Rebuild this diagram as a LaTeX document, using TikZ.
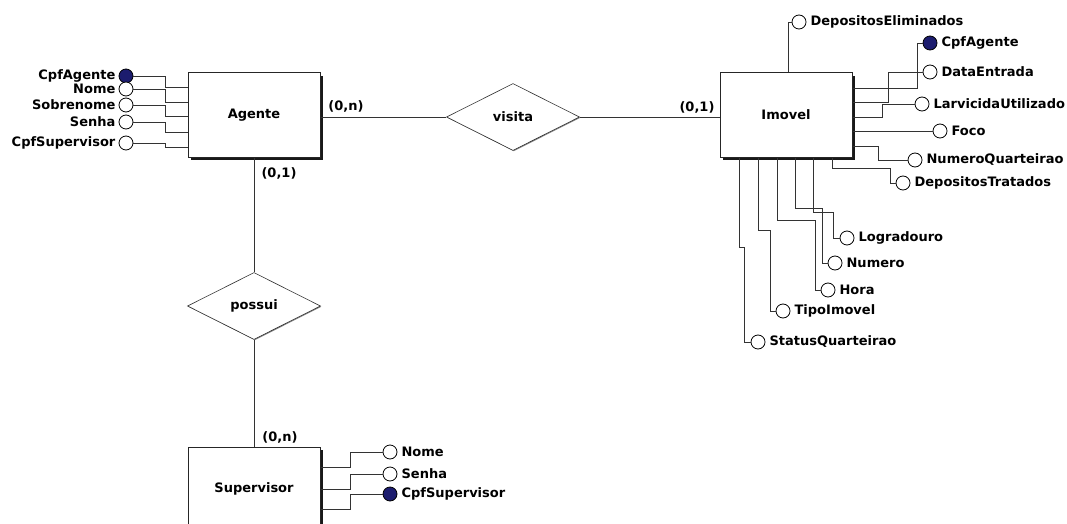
\documentclass[tikz,border=0pt]{standalone}
\usepackage{fontspec}
\setmainfont{DejaVu Sans}
\usetikzlibrary{shapes.geometric,shadows}
\definecolor{keyblue}{RGB}{28,28,110}
\begin{document}
\begin{tikzpicture}[x=1pt,y=-1pt,
  every node/.style={font=\fontsize{13}{15}\selectfont\bfseries},
  ent/.style={draw=black!85,line width=1pt,fill=white,minimum width=132pt,minimum height=84pt,inner sep=0pt,
    drop shadow={shadow xshift=2.6pt,shadow yshift=-2.6pt,fill=black!90,opacity=1}},
  rel/.style={draw=black!80,diamond,line width=0.6pt,fill=white,minimum width=133pt,minimum height=67pt,inner sep=0pt,
    drop shadow={shadow xshift=0.8pt,shadow yshift=-0.8pt,fill=black!50,opacity=1}},
  attr/.style={circle,draw,line width=0.8pt,fill=white,minimum size=14pt,inner sep=0pt},
  key/.style={attr,fill=keyblue},
  conn/.style={line width=0.9pt,black!80},
  lr/.style={label={[inner sep=0pt,label distance=4pt]right:#1}},
  ll/.style={label={[inner sep=0pt,label distance=3pt]left:#1}},
]
\useasboundingbox (0,0) rectangle (1067,524);
\clip (0,0) rectangle (1067,524);

% entities and relationships
\node[ent] (agente) at (254,115) {Agente};
\node[ent] (imovel) at (786,115) {Imovel};
\node[ent] (supervisor) at (254,489) {Supervisor};
\node[rel] (visita) at (513,117) {visita};
\node[rel] (possui) at (254,306) {possui};

\draw[conn] (agente.east |- visita.west) -- (visita.west);
\draw[conn] (visita.east) -- (imovel.west |- visita.east);
\draw[conn] (agente.south) -- (possui.north);
\draw[conn] (possui.south) -- (supervisor.north);

% cardinalities
\node (c1) at (346,106) {(0,n)};
\node (c2) at (697,107) {(0,1)};
\node (c3) at (279,173) {(0,1)};
\node (c4) at (280,437) {(0,n)};

% Agente attributes
\node[key,ll=CpfAgente] (a1) at (126,76) {};
\node[attr,ll=Nome] (a2) at (126,89) {};
\node[attr,ll=Sobrenome] (a3) at (126,105) {};
\node[attr,ll=Senha] (a4) at (126,122) {};
\node[attr,ll=CpfSupervisor] (a5) at (126,143) {};
\draw[conn] (a1.east) -- (165,76) |- (agente.west |- 0,87);
\draw[conn] (a2.east) -- (165,89) |- (agente.west |- 0,102);
\draw[conn] (a3.east) -- (165,105) |- (agente.west |- 0,116);
\draw[conn] (a4.east) -- (165,122) |- (agente.west |- 0,132);
\draw[conn] (a5.east) -- (165,143) |- (agente.west |- 0,147);

% Imovel attributes (right / top)
\node[key,lr=CpfAgente] (i1) at (930,43) {};
\node[attr,lr=DataEntrada] (i2) at (930,72) {};
\node[attr,lr=LarvicidaUtilizado] (i3) at (922,104) {};
\node[attr,lr=Foco] (i4) at (940,131) {};
\node[attr,lr=NumeroQuarteirao] (i5) at (915,160) {};
\node[attr,lr=DepositosTratados] (i6) at (903,183) {};
\node[attr,lr=DepositosEliminados] (i7) at (799,22) {};
\draw[conn] (imovel.east |- 0,88) -- (917,88) |- (i1.west);
\draw[conn] (imovel.east |- 0,102) -- (888,102) |- (i2.west);
\draw[conn] (imovel.east |- 0,117) -- (882,117) |- (i3.west);
\draw[conn] (imovel.east |- i4.west) -- (i4.west);
\draw[conn] (imovel.east |- 0,146) -- (878,146) |- (i5.west);
\draw[conn] (imovel.south -| 832,0) -- (832,168) -- (890,168) |- (i6.west);
\draw[conn] (imovel.north -| 788,0) |- (i7.west);

% Imovel attributes (bottom)
\node[attr,lr=Logradouro] (b1) at (847,238) {};
\node[attr,lr=Numero] (b2) at (835,263) {};
\node[attr,lr=Hora] (b3) at (828,290) {};
\node[attr,lr=TipoImovel] (b4) at (783,311) {};
\node[attr,lr=StatusQuarteirao] (b5) at (758,342) {};
\draw[conn] (imovel.south -| 813,0) -- (813,212) -- (833,212) |- (b1.west);
\draw[conn] (imovel.south -| 795,0) -- (795,208) -- (822,208) |- (b2.west);
\draw[conn] (imovel.south -| 777,0) -- (777,220) -- (815,220) |- (b3.west);
\draw[conn] (imovel.south -| 758,0) -- (758,230) -- (770,230) |- (b4.west);
\draw[conn] (imovel.south -| 739,0) -- (739,247) -- (744,247) |- (b5.west);

% Supervisor attributes
\node[attr,lr=Nome] (s1) at (390,452) {};
\node[attr,lr=Senha] (s2) at (390,474) {};
\node[key,lr=CpfSupervisor] (s3) at (390,494) {};
\draw[conn] (supervisor.east |- 0,467) -- (350,467) |- (s1.west);
\draw[conn] (supervisor.east |- 0,489) -- (350,489) |- (s2.west);
\draw[conn] (supervisor.east |- 0,509) -- (350,509) |- (s3.west);
\end{tikzpicture}
\end{document}
